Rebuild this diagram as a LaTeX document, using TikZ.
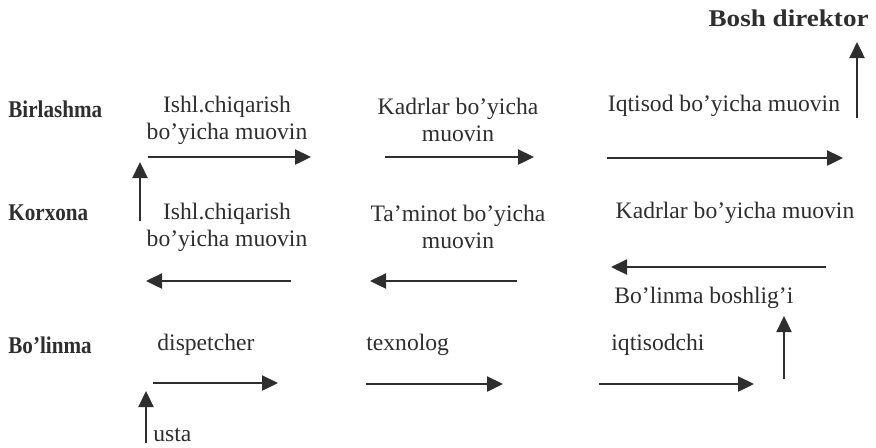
\documentclass[tikz,border=0pt]{standalone}
\usepackage{fontspec}
\setmainfont{Liberation Serif}
\usetikzlibrary{arrows.meta}
\definecolor{ink}{HTML}{2E2E2E}
\newcommand{\narrow}[1]{\scalebox{0.88}[1]{#1}}
\tikzset{
  lvl/.style={font=\fontsize{12}{13.5}\selectfont\bfseries, anchor=west},
  post/.style={align=center},
  arr/.style={-{Triangle[length=8pt,width=7.5pt]}, line width=1.2pt}
}
\begin{document}
\begin{tikzpicture}[x=0.5pt,y=-0.5pt, ink,
    every node/.style={inner sep=0pt, text=ink},
    font=\fontsize{11.8}{13.5}\selectfont]
    \useasboundingbox (0,0) rectangle (876,447);
    % levels
    \node[lvl] (birl) at (8,109) {\narrow{Birlashma}};
    \node[lvl] (korx) at (8,213) {\narrow{Korxona}};
    \node[lvl] (bolin) at (8,345) {\narrow{Bo'linma}};
    \node[lvl, anchor=east] (bosh) at (869,18) {\scalebox{1.13}[1]{Bosh direktor}};
    % Birlashma
    \node[post] (b1) at (227,120) {Ishl.chiqarish\\bo'yicha muovin};
    \node[post] (b2) at (458,120) {Kadrlar bo'yicha\\muovin};
    \node[post] (b3) at (724,106) {Iqtisod bo'yicha muovin};
    % Korxona
    \node[post] (k1) at (227,227) {Ishl.chiqarish\\bo'yicha muovin};
    \node[post] (k2) at (458,227) {Ta'minot bo'yicha\\muovin};
    \node[post] (k3) at (735,213) {Kadrlar bo'yicha muovin};
    \node[anchor=west] (boshliq) at (614,298) {Bo'linma boshlig'i};
    % Bo'linma
    \node[anchor=west] (disp) at (157,345) {dispetcher};
    \node[anchor=west] (texn) at (366,345) {texnolog};
    \node[anchor=west] (iqt) at (611,345) {iqtisodchi};
    \node[anchor=west] (usta) at (153,435) {usta};
    % arrow ends
    \coordinate (u1a) at (146,443); \coordinate (u1b) at (146,391);
    \coordinate (d1a) at (153,383); \coordinate (d1b) at (278,383);
    \coordinate (d2a) at (366,384); \coordinate (d2b) at (503,384);
    \coordinate (d3a) at (599,384); \coordinate (d3b) at (754,384);
    \coordinate (u2a) at (784,379); \coordinate (u2b) at (784,316);
    \coordinate (k3a) at (826,267); \coordinate (k3b) at (611,267);
    \coordinate (k2a) at (517,281); \coordinate (k2b) at (370,281);
    \coordinate (k1a) at (291,281); \coordinate (k1b) at (146,281);
    \coordinate (u3a) at (140,221); \coordinate (u3b) at (140,162);
    \coordinate (b1a) at (148,157); \coordinate (b1b) at (311,157);
    \coordinate (b2a) at (385,157); \coordinate (b2b) at (534,157);
    \coordinate (b3a) at (607,158); \coordinate (b3b) at (843,158);
    \coordinate (u4a) at (857,118); \coordinate (u4b) at (857,42);
    \foreach \s in {u1,d1,d2,d3,u2,k3,k2,k1,u3,b1,b2,b3,u4}
        \draw[arr] (\s a) -- (\s b);
\end{tikzpicture}
\end{document}
